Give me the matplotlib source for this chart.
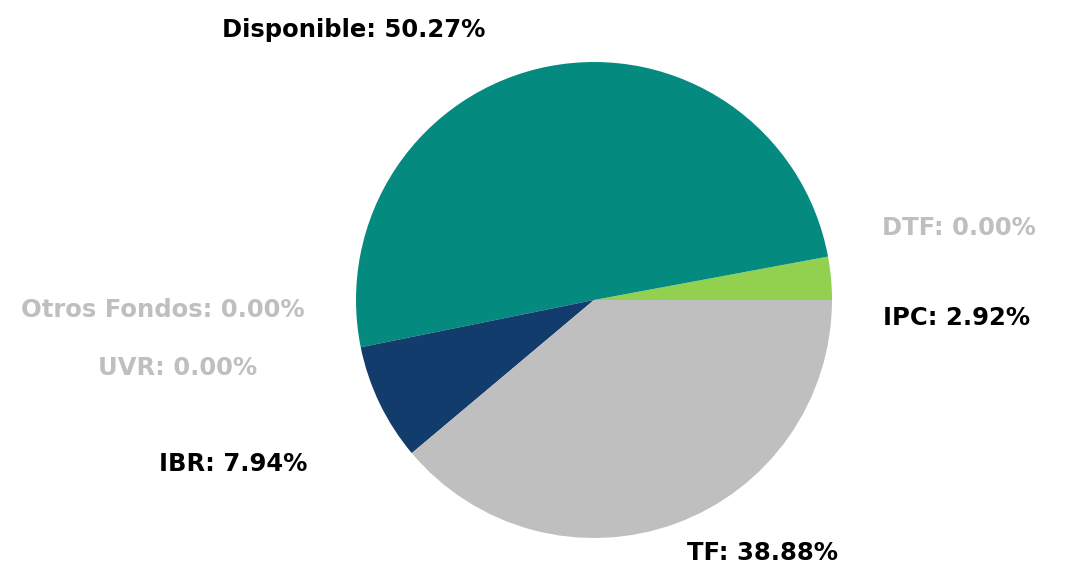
import matplotlib
matplotlib.use('Agg')
import matplotlib.pyplot as plt

# datos del portafolio (orden antihorario desde las 3 en punto)
categorias = ['IPC', 'Disponible', 'Otros Fondos', 'UVR', 'IBR', 'TF', 'DTF']
valores = [2.92, 50.27, 0.00, 0.00, 7.94, 38.88, 0.00]
colores = ['#92d050', '#058a80', '#058a80', '#123c6b', '#123c6b', '#bfbfbf', '#bfbfbf']

# posiciones de etiquetas en pixeles (centro del texto)
pos_etiquetas = {
    'IPC': (957, 318), 'Disponible': (354, 30), 'Otros Fondos': (163, 310),
    'UVR': (178, 368), 'IBR': (233, 464), 'TF': (763, 553), 'DTF': (959, 228),
}

W, H = 1065, 573
cx, cy, R = 594, 300, 238

fig = plt.figure(figsize=(W / 100, H / 100), dpi=100)
ax = fig.add_axes([0, 0, 1, 1])
ax.pie(valores, colors=colores, startangle=0, counterclock=True, radius=1,
       wedgeprops=dict(linewidth=0))
ax.set_xlim(-cx / R, (W - cx) / R)
ax.set_ylim(-(H - cy) / R, cy / R)
ax.set_aspect('equal')
ax.axis('off')

for cat, val in zip(categorias, valores):
    px, py = pos_etiquetas[cat]
    color = '#bfbfbf' if val == 0 else 'black'
    ax.text((px - cx) / R, (cy - py) / R, f'{cat}: {val:.2f}%', ha='center', va='center',
            fontsize=17.5, fontweight='bold', color=color, family='DejaVu Sans')

plt.savefig('out.png', dpi=100)
